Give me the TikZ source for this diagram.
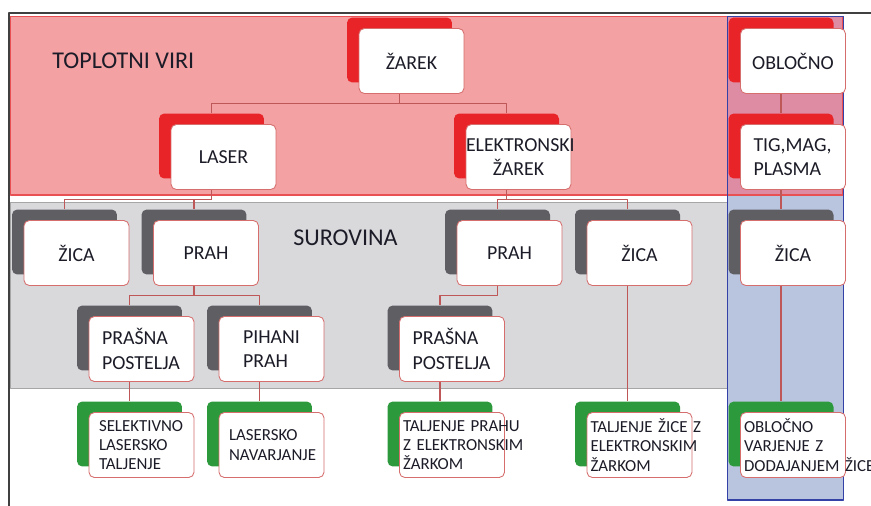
\documentclass[tikz,border=0pt]{standalone}
\usepackage{fontspec}
\setmainfont{Carlito}
\definecolor{bandRed}{RGB}{243,161,163}
\definecolor{bandRedLine}{RGB}{232,80,84}
\definecolor{bandGray}{RGB}{217,217,220}
\definecolor{bandBlue}{RGB}{185,196,222}
\definecolor{bandMix}{RGB}{222,140,164}
\definecolor{blueLine}{RGB}{52,66,168}
\definecolor{shRed}{RGB}{233,36,40}
\definecolor{shGray}{RGB}{95,95,99}
\definecolor{shGreen}{RGB}{44,154,60}
\definecolor{cardLine}{RGB}{214,110,110}
\definecolor{linkCol}{RGB}{190,88,88}
\definecolor{ink}{RGB}{28,28,40}
\begin{document}
\begin{tikzpicture}[x=0.02cm,y=-0.02cm,line join=round,
    sen/.style={minimum width=2.1cm,minimum height=1.3cm,rounded corners=3pt,inner sep=0pt},
    vir/.style={sen,fill=shRed},
    surov/.style={sen,fill=shGray},
    proces/.style={sen,fill=shGreen},
    kart/.style={minimum width=2.1cm,minimum height=1.3cm,rounded corners=3pt,fill=white,draw=cardLine,line width=.5pt,
        text=ink,font=\fontsize{11.3}{14}\selectfont,align=center,inner xsep=0pt,text width=2.1cm},
    kartl/.style={kart,align=left,inner xsep=.26cm,text width=1.58cm},
    kartp/.style={kart,align=left,inner xsep=.48cm,text width=1.14cm},
    kartg/.style={kart,align=left,font=\fontsize{9.6}{11}\selectfont,inner xsep=.2cm,text width=1.7cm},
    karth/.style={kartg,inner xsep=.07cm,text width=1.96cm},
    vez/.style={draw=linkCol,line width=.6pt},
    pas/.style={anchor=west,inner sep=0pt,text=ink,font=\fontsize{13.7}{16}\selectfont}]
    \useasboundingbox (0,0) rectangle (871,506);
    \clip (0,0) rectangle (871,506);
    %Pasovi
    \fill[white] (0,0) rectangle (871,506);
    \fill[bandRed] (10.5,16.5) rectangle (727,195);
    \fill[bandMix] (727,16.5) rectangle (843,195);
    \fill[bandBlue] (727,195) rectangle (843,500);
    \draw[fill=bandGray,draw=gray!70,line width=.4pt] (10.5,202) rectangle (727,388);
    \draw[bandRedLine,line width=.6pt] (10.5,16.5) rectangle (843,195);
    \draw[blueLine,line width=.9pt] (727.5,16.5) rectangle (843.5,500);
    \draw[black!75,line width=.8pt] (9,506) |- (871,13);
    \node[pas] (toplotni) at (52,61) {TOPLOTNI VIRI};
    \node[pas] (surovina) at (293,238) {SUROVINA};
    %Sence
    \foreach \n/\x/\y/\s in {zarek/399.5/50/vir, laser/211.5/146/vir, elek/506.5/146/vir, oblocno/781/50/vir, tig/781/146/vir,
        zicaA/64.5/242/surov, prahA/194/242/surov, prahB/497.5/242/surov, zicaB/627.5/242/surov, zicaC/781/242/surov,
        postA/129.5/338/surov, pihani/259.5/338/surov, postB/440/338/surov,
        slm/129.5/434/proces, navar/259.5/434/proces, ebmP/440/434/proces, ebmZ/627.5/434/proces, arc/781/434/proces}
        \node[\s] (\n) at (\x,\y) {};
    %Povezave
    \foreach \p/\c in {zarek/laser, zarek/elek, laser/zicaA, laser/prahA, elek/prahB, elek/zicaB, oblocno/tig, tig/zicaC,
        prahA/postA, prahA/pihani, prahB/postB, postA/slm, pihani/navar, postB/ebmP, zicaB/ebmZ, zicaC/arc}
        \draw[vez] (\p.south) |- ([yshift=2mm]\c.north) -- (\c.north);
    %Kartice
    \foreach \n/\k/\t in {zarek/kart/ŽAREK, laser/kart/LASER, elek/kart/{ELEKTRONSKI\\ŽAREK}, oblocno/kart/OBLOČNO,
        tig/kartl/{TIG,MAG,\\PLASMA}, zicaA/kart/ŽICA, prahA/kart/PRAH, prahB/kart/PRAH, zicaB/kart/ŽICA, zicaC/kart/ŽICA,
        postA/kartl/{PRAŠNA\\POSTELJA}, pihani/kartp/{PIHANI\\PRAH}, postB/kartl/{PRAŠNA\\POSTELJA},
        slm/kartg/{SELEKTIVNO\\LASERSKO\\TALJENJE}, navar/kartg/{LASERSKO\\NAVARJANJE},
        ebmP/karth/{\mbox{TALJENJE PRAHU}\\\mbox{Z ELEKTRONSKIM}\\ŽARKOM},
        ebmZ/karth/{\mbox{TALJENJE ŽICE Z}\\ELEKTRONSKIM\\ŽARKOM},
        arc/karth/{OBLOČNO\\\mbox{VARJENJE Z}\\\mbox{DODAJANJEM ŽICE}}}
        \node[\k] (\n-k) at ([shift={(12,11)}]\n) {\t};
\end{tikzpicture}
\end{document}
